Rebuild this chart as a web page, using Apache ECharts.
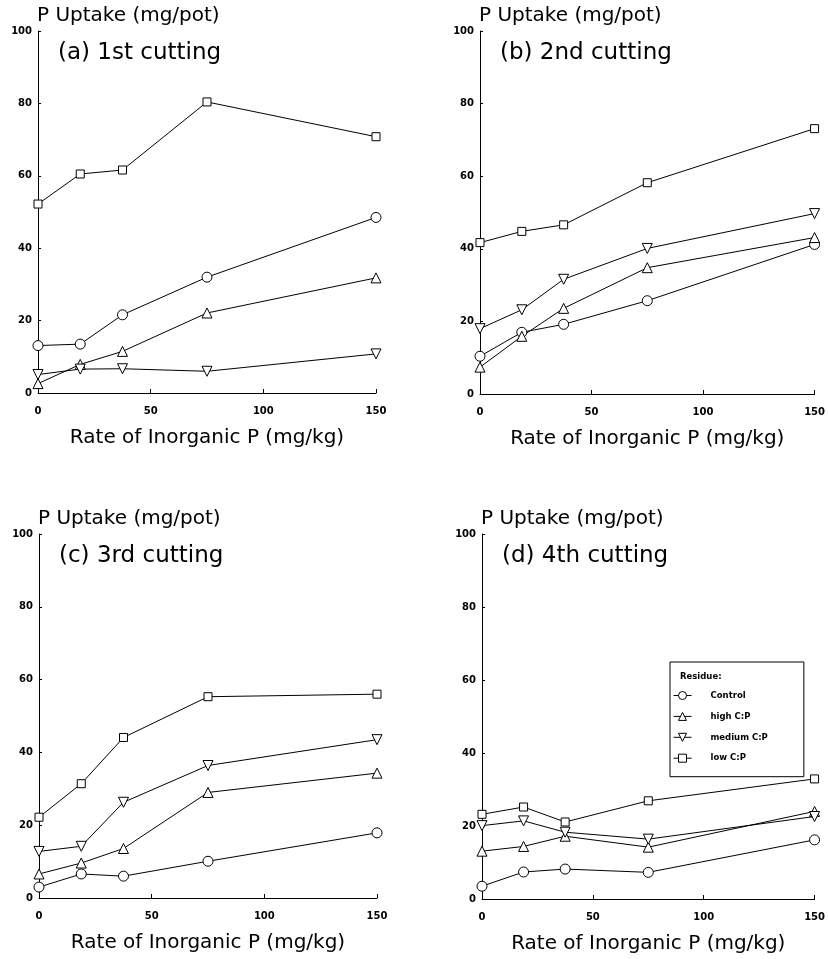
<!DOCTYPE html>
<html>
<head>
<meta charset="utf-8">
<title>P Uptake by cutting</title>
<script src="https://cdn.jsdelivr.net/npm/echarts@6/dist/echarts.min.js"></script>
<style>
    html, body { margin: 0; padding: 0; background: #fff; }
    #chart { width: 828px; height: 959px; }
</style>
</head>
<body>
<div id="chart"></div>
<script>
// rate of inorganic P, mg/kg
const rates = [0, 18.75, 37.5, 75, 150];
const xTicks = [0, 50, 100, 150];
const yTicks = [0, 20, 40, 60, 80, 100];
const seriesNames = ['Control', 'high C:P', 'medium C:P', 'low C:P'];
const panelTitles = ['(a) 1st cutting', '(b) 2nd cutting', '(c) 3rd cutting', '(d) 4th cutting'];

// P uptake, mg/pot
const controlA = [13.1, 13.5, 21.6, 32.0, 48.5];
const highA = [2.6, 7.9, 11.5, 22.1, 31.8];
const mediumA = [5.1, 6.6, 6.7, 6.0, 10.8];
const lowA = [52.2, 60.5, 61.6, 80.4, 70.8];

const controlB = [10.4, 17.0, 19.2, 25.7, 41.2];
const highB = [7.4, 15.9, 23.6, 34.8, 43.1];
const mediumB = [18.0, 23.2, 31.6, 40.1, 49.7];
const lowB = [41.7, 44.8, 46.6, 58.2, 73.1];

const controlC = [3.0, 6.6, 6.0, 10.1, 17.9];
const highC = [6.6, 9.6, 13.6, 29.0, 34.3];
const mediumC = [12.8, 14.2, 26.3, 36.4, 43.5];
const lowC = [22.2, 31.4, 44.1, 55.3, 56.0];

const controlD = [3.5, 7.4, 8.2, 7.3, 16.2];
const highD = [13.1, 14.4, 17.2, 14.2, 24.0];
const mediumD = [20.1, 21.4, 18.3, 16.4, 22.6];
const lowD = [23.2, 25.2, 21.1, 26.9, 32.9];

const panelData = [
    [controlA, highA, mediumA, lowA],
    [controlB, highB, mediumB, lowB],
    [controlC, highC, mediumC, lowC],
    [controlD, highD, mediumD, lowD]
];

const grids = [
    { left: 38, top: 31, width: 338, height: 362 },
    { left: 480, top: 31, width: 336, height: 363 },
    { left: 39, top: 534, width: 338, height: 364 },
    { left: 482, top: 534, width: 336, height: 365 }
];

const markers = [
    { symbol: 'circle', size: 10, rotate: 0 },
    { symbol: 'triangle', size: 10, rotate: 0 },
    { symbol: 'triangle', size: 10, rotate: 180 },
    { symbol: 'rect', size: 8, rotate: 0 }
];

const tickFont = { color: '#000', fontFamily: 'DejaVu Sans', fontWeight: 'bold', fontSize: 10 };

const xAxes = grids.map((g, i) => ({
    type: 'value',
    gridIndex: i,
    min: xTicks[0],
    max: xTicks[xTicks.length - 1],
    interval: 50,
    name: 'Rate of Inorganic P (mg/kg)',
    nameLocation: 'middle',
    nameGap: 35,
    nameTextStyle: { color: '#000', fontFamily: 'DejaVu Sans', fontSize: 20 },
    axisLine: { lineStyle: { color: '#000', width: 1 } },
    axisTick: { inside: true, length: 4, lineStyle: { color: '#000' } },
    axisLabel: Object.assign({ margin: 13 }, tickFont),
    splitLine: { show: false }
}));

const yAxes = grids.map((g, i) => ({
    type: 'value',
    gridIndex: i,
    min: yTicks[0],
    max: yTicks[yTicks.length - 1],
    interval: 20,
    axisLine: { lineStyle: { color: '#000', width: 1 } },
    axisTick: { inside: true, length: 3, lineStyle: { color: '#000' } },
    axisLabel: Object.assign({ margin: 6 }, tickFont),
    splitLine: { show: false }
}));

const series = [];
panelData.forEach((sets, p) => {
    sets.forEach((vals, k) => {
        series.push({
            name: seriesNames[k],
            type: 'line',
            xAxisIndex: p,
            yAxisIndex: p,
            data: rates.map((r, j) => [r, vals[j]]),
            symbol: markers[k].symbol,
            symbolSize: markers[k].size,
            symbolRotate: markers[k].rotate,
            showAllSymbol: true,
            lineStyle: { color: '#000', width: 1 },
            itemStyle: { color: '#fff', borderColor: '#000', borderWidth: 1 },
            emphasis: { disabled: true }
        });
    });
});

const graphics = [];
grids.forEach((g, i) => {
    graphics.push({
        type: 'text',
        x: g.left - 1,
        y: g.top - 15,
        style: { text: 'P Uptake (mg/pot)', font: '20px "DejaVu Sans"', fill: '#000', verticalAlign: 'middle' }
    });
    graphics.push({
        type: 'text',
        x: g.left + 20,
        y: g.top + 22,
        style: { text: panelTitles[i], font: '23px "DejaVu Sans"', fill: '#000', verticalAlign: 'middle' }
    });
});
graphics.push({
    type: 'text',
    x: 680,
    y: 677,
    style: { text: 'Residue:', font: 'bold 8.5px "DejaVu Sans"', fill: '#000', verticalAlign: 'middle' }
});

const chart = echarts.init(document.getElementById('chart'));
chart.setOption({
    animation: false,
    backgroundColor: '#fff',
    grid: grids,
    xAxis: xAxes,
    yAxis: yAxes,
    legend: {
        data: seriesNames,
        orient: 'vertical',
        left: 670,
        top: 662,
        padding: [29, 36, 14, 3],
        itemWidth: 18,
        itemHeight: 10,
        itemGap: 11.9,
        borderColor: '#000',
        borderWidth: 1,
        selectedMode: false,
        itemStyle: { color: '#fff', borderColor: '#000', borderWidth: 1 },
        lineStyle: { color: '#000', width: 1 },
        textStyle: { color: '#000', fontFamily: 'DejaVu Sans', fontWeight: 'bold', fontSize: 8.5, padding: [0, 0, 0, 14] }
    },
    graphic: graphics,
    series: series
});
</script>
</body>
</html>
